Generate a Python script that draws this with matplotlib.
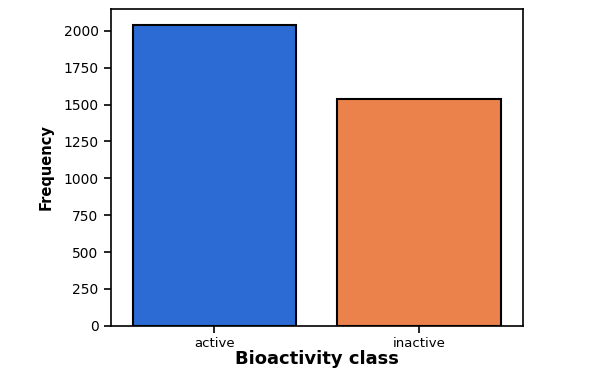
import matplotlib
matplotlib.use("Agg")
import matplotlib.pyplot as plt

# bar data
classes = ["active", "inactive"]
counts = [2043, 1535]
bar_colors = ["#2b6bd3", "#eb824b"]

fig = plt.figure(figsize=(5.94, 3.82), dpi=100)
ax = fig.add_axes([0.187, 0.147, 0.693, 0.829])

ax.bar(range(len(classes)), counts, width=0.8, color=bar_colors,
       edgecolor="black", linewidth=1.5)
ax.set_xlim(-0.505, 1.507)
ax.set_ylim(0, 2147)
ax.set_xticks(range(len(classes)))
ax.set_xticklabels(classes)
ax.set_yticks([0, 250, 500, 750, 1000, 1250, 1500, 1750, 2000])
ax.tick_params(axis="y", labelsize=10, length=5, width=1.2, pad=4)
ax.tick_params(axis="x", labelsize=9.5, length=5, width=1.2, pad=3)

for s in ax.spines.values():
    s.set_linewidth(1.2)

ax.set_xlabel("Bioactivity class", fontsize=13, fontweight="bold", labelpad=0)
ax.set_ylabel("Frequency", fontsize=10.5, fontweight="bold", labelpad=7)

fig.savefig("out.png", dpi=100)
